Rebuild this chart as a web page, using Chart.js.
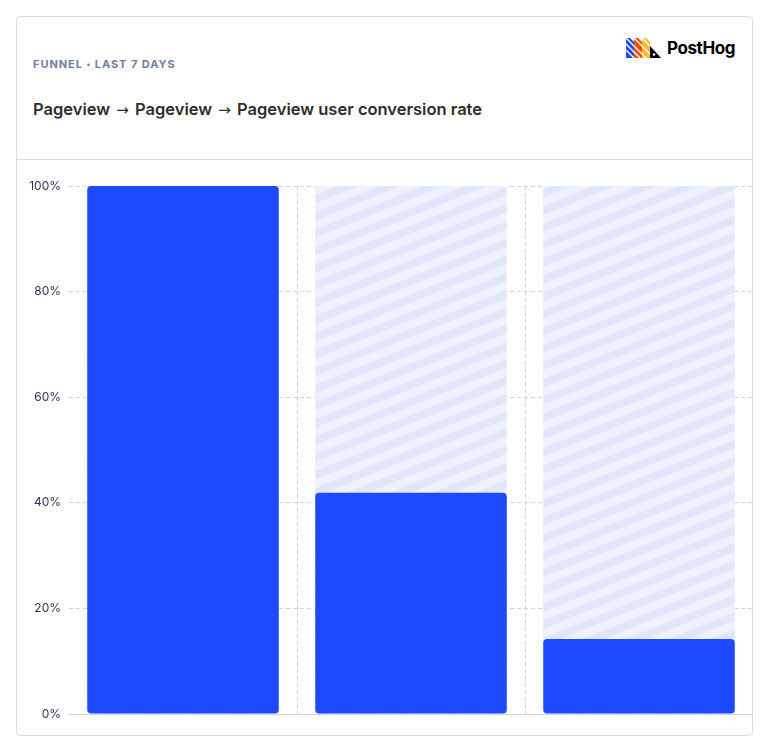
<!DOCTYPE html>
<html>
<head>
<meta charset="utf-8">
<script src="https://cdn.jsdelivr.net/npm/chart.js@4"></script>
<style>
  html, body { margin: 0; padding: 0; background: #fff; width: 770px; height: 752px; overflow: hidden; }
  body { font-family: Inter, "Noto Sans", sans-serif; position: relative; }
  .card { position: absolute; left: 16px; top: 16px; width: 735px; height: 718px; border: 1px solid #dcdcdc; border-radius: 4px; background: #fff; }
  .kicker { position: absolute; left: 16px; top: 40px; font-size: 11px; font-weight: 700; letter-spacing: 0.95px; color: #747ea1; white-space: nowrap; }
  .kicker .dot { font-size: 8px; vertical-align: 1px; }
  .title { position: absolute; left: 16px; top: 82px; font-size: 16.5px; font-weight: 600; color: #2d2d2d; white-space: nowrap; }
  .title .arr { font-family: "DejaVu Sans", sans-serif; font-weight: 400; font-size: 15px; margin: 0 2px; }
  .divider { position: absolute; left: 0; top: 142px; width: 735px; height: 1px; background: #dcdcdc; }
  .logo { position: absolute; left: 609px; top: 20px; height: 22px; display: flex; align-items: center; }
  .logo span { font-size: 17px; font-weight: 700; color: #000; margin-left: 6px; letter-spacing: -0.4px; }
  .chartbox { position: absolute; left: 0px; top: 143px; width: 736px; height: 576px; }
</style>
</head>
<body>
<div class="card">
  <div class="kicker">FUNNEL <span class="dot">•</span> LAST 7 DAYS</div>
  <div class="title">Pageview <span class="arr">→</span> Pageview <span class="arr">→</span> Pageview user conversion rate</div>
  <div class="logo">
    <svg width="35" height="20" viewBox="0 0 35 20">
      <g>
        <polygon points="0,0 4,0 8,4 8,20 0,20" fill="#1d4aff"/>
        <polygon points="8,0 12,0 16,4 16,20 8,20" fill="#f54e00"/>
        <polygon points="16,0 20,0 24,4 24,20 16,20" fill="#f9bd2b"/>
        <line x1="-2" y1="4" x2="24" y2="30" stroke="#fff" stroke-width="1.4"/>
        <line x1="-2" y1="10" x2="24" y2="36" stroke="#fff" stroke-width="1.4"/>
        <line x1="-2" y1="-2" x2="24" y2="24" stroke="#fff" stroke-width="1.4"/>
        <line x1="6" y1="-2" x2="24" y2="16" stroke="#fff" stroke-width="1.4"/>
        <line x1="14" y1="-2" x2="24" y2="8" stroke="#fff" stroke-width="1.4"/>
        <polygon points="24,8 35,20 24,20" fill="#000"/>
        <circle cx="28" cy="16.5" r="1.3" fill="#fff"/>
      </g>
    </svg>
    <span>PostHog</span>
  </div>
  <div class="divider"></div>
  <div class="chartbox"><canvas id="c"></canvas></div>
</div>
<script>
const steps = ['Pageview', 'Pageview', 'Pageview'];
const conversionRate = [100, 41.9, 14.2];
const remainingBase = [100, 100, 100];
const yTicks = [0, 20, 40, 60, 80, 100];

function makeStripes() {
  const tile = document.createElement('canvas');
  tile.width = 16; tile.height = 16;
  const t = tile.getContext('2d');
  t.fillStyle = '#eff2fe'; t.fillRect(0, 0, 16, 16);
  t.fillStyle = '#e1e6fd'; t.fillRect(0, 0, 16, 8);
  const ctx = document.getElementById('c').getContext('2d');
  const p = ctx.createPattern(tile, 'repeat');
  if (p.setTransform) p.setTransform(new DOMMatrix().rotate(-22));
  return p;
}

const stripe = makeStripes();

new Chart(document.getElementById('c'), {
  type: 'bar',
  data: {
    labels: steps,
    datasets: [
      {
        label: 'Conversion rate',
        data: conversionRate,
        backgroundColor: '#1d4aff',
        borderRadius: 4,
        borderSkipped: false,
        grouped: false,
        order: 1,
        barPercentage: 0.84,
        categoryPercentage: 1
      },
      {
        label: 'Remaining',
        data: remainingBase,
        backgroundColor: stripe,
        borderRadius: 0,
        grouped: false,
        order: 2,
        barPercentage: 0.84,
        categoryPercentage: 1
      }
    ]
  },
  options: {
    responsive: true,
    maintainAspectRatio: false,
    animation: false,
    layout: { padding: { top: 26, right: 0, left: 0, bottom: 0 } },
    plugins: { legend: { display: false }, tooltip: { enabled: false } },
    scales: {
      x: {
        ticks: { display: false },
        grid: {
          offset: true,
          drawTicks: false,
          color: (ctx) => (ctx.index === 0 || ctx.index === steps.length) ? 'rgba(0,0,0,0)' : '#d4d4d4'
        },
        border: { display: true, color: '#d4d4d4', width: 1, dash: [4, 3] },
        afterFit: (s) => { s.height = 22; }
      },
      y: {
        min: 0,
        max: 100,
        afterBuildTicks: (s) => { s.ticks = yTicks.map(v => ({ value: v })); },
        ticks: {
          padding: 8,
          color: '#2e3560',
          font: { family: 'Inter', size: 12 },
          callback: (v) => v + '%'
        },
        grid: {
          drawTicks: false,
          color: (ctx) => ctx.index === 0 ? 'rgba(0,0,0,0)' : '#d4d4d4'
        },
        border: { display: false, dash: [4, 3] },
        afterFit: (s) => { s.width = 52; }
      }
    }
  }
});
</script>
</body>
</html>
